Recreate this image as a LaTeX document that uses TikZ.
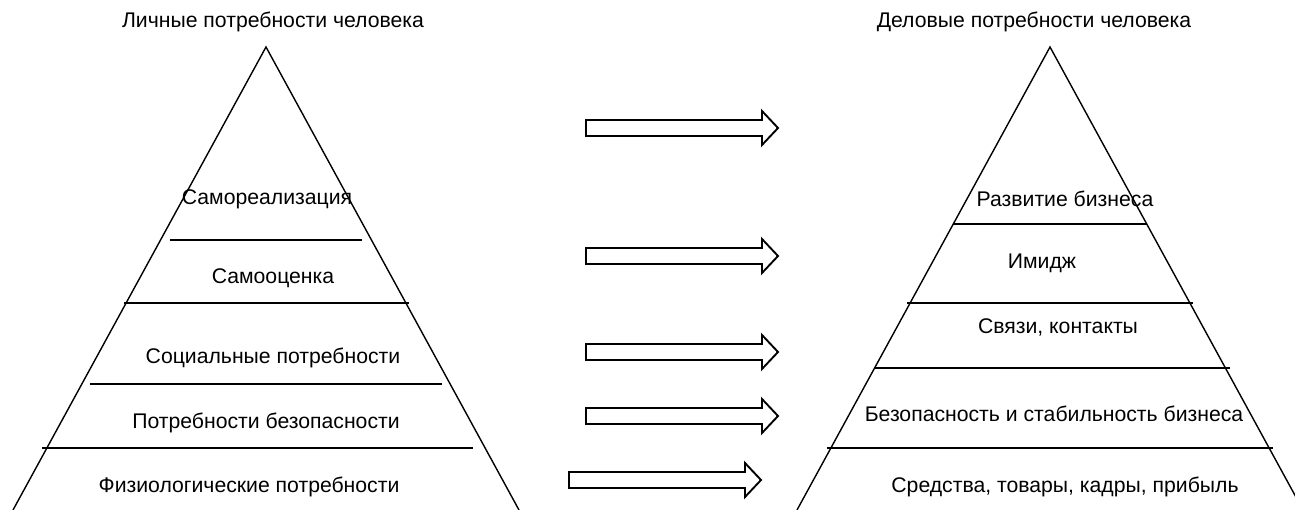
\documentclass[tikz,border=0pt]{standalone}
\usepackage{fontspec}
\setmainfont{Liberation Sans}
\begin{document}
\begin{tikzpicture}[x=1pt,y=-1pt,
  edge/.style={line width=1.4pt,line join=miter},
  level/.style={line width=2pt},
  arrowline/.style={line width=1.9pt,line join=miter},
  lbl/.style={font=\fontsize{21.2}{24}\selectfont,inner sep=0pt,anchor=center},
  blockarrow/.pic={\draw[arrowline] (0,-8) -- (176,-8) -- (176,-17) -- (192,0) -- (176,17) -- (176,8) -- (0,8) -- cycle;}]
\useasboundingbox (0,0) rectangle (1295,510);
\clip (0,0) rectangle (1295,510);
% left pyramid
\coordinate (LA) at (266,47);
\coordinate (LL) at (13,510);
\coordinate (LR) at (519,510);
\draw[edge] (LL) -- (LA) -- (LR);
\draw[level] (170,240) -- (362,240);
\draw[level] (124,303) -- (409,303);
\draw[level] (90,384) -- (442,384);
\draw[level] (42,448) -- (473,448);
\node[lbl] (lt) at (273,22) {Личные потребности человека};
\node[lbl] (l1) at (267,199) {Самореализация};
\node[lbl] (l2) at (273,278) {Самооценка};
\node[lbl] (l3) at (273,358) {Социальные потребности};
\node[lbl] (l4) at (266,423) {Потребности безопасности};
\node[lbl] (l5) at (249,487) {Физиологические потребности};
% right pyramid
\coordinate (RA) at (1050,47);
\coordinate (RL) at (797,510);
\coordinate (RR) at (1303,510);
\draw[edge] (RL) -- (RA) -- (RR);
\draw[level] (953,224) -- (1147,224);
\draw[level] (907,303) -- (1193,303);
\draw[level] (874,368) -- (1230,368);
\draw[level] (827,448) -- (1273,448);
\node[lbl] (rt) at (1034,22) {Деловые потребности человека};
\node[lbl] (r1) at (1065,199) {Развитие бизнеса};
\node[lbl] (r2) at (1042,263) {Имидж};
\node[lbl] (r3) at (1058,327) {Связи, контакты};
\node[lbl] (r4) at (1054,414) {Безопасность и стабильность бизнеса};
\node[lbl] (r5) at (1065,487) {Средства, товары, кадры, прибыль};
% arrows
\pic at (586,128) {blockarrow};
\pic at (586,256) {blockarrow};
\pic at (586,352) {blockarrow};
\pic at (586,416) {blockarrow};
\pic at (569,480) {blockarrow};
\end{tikzpicture}
\end{document}
